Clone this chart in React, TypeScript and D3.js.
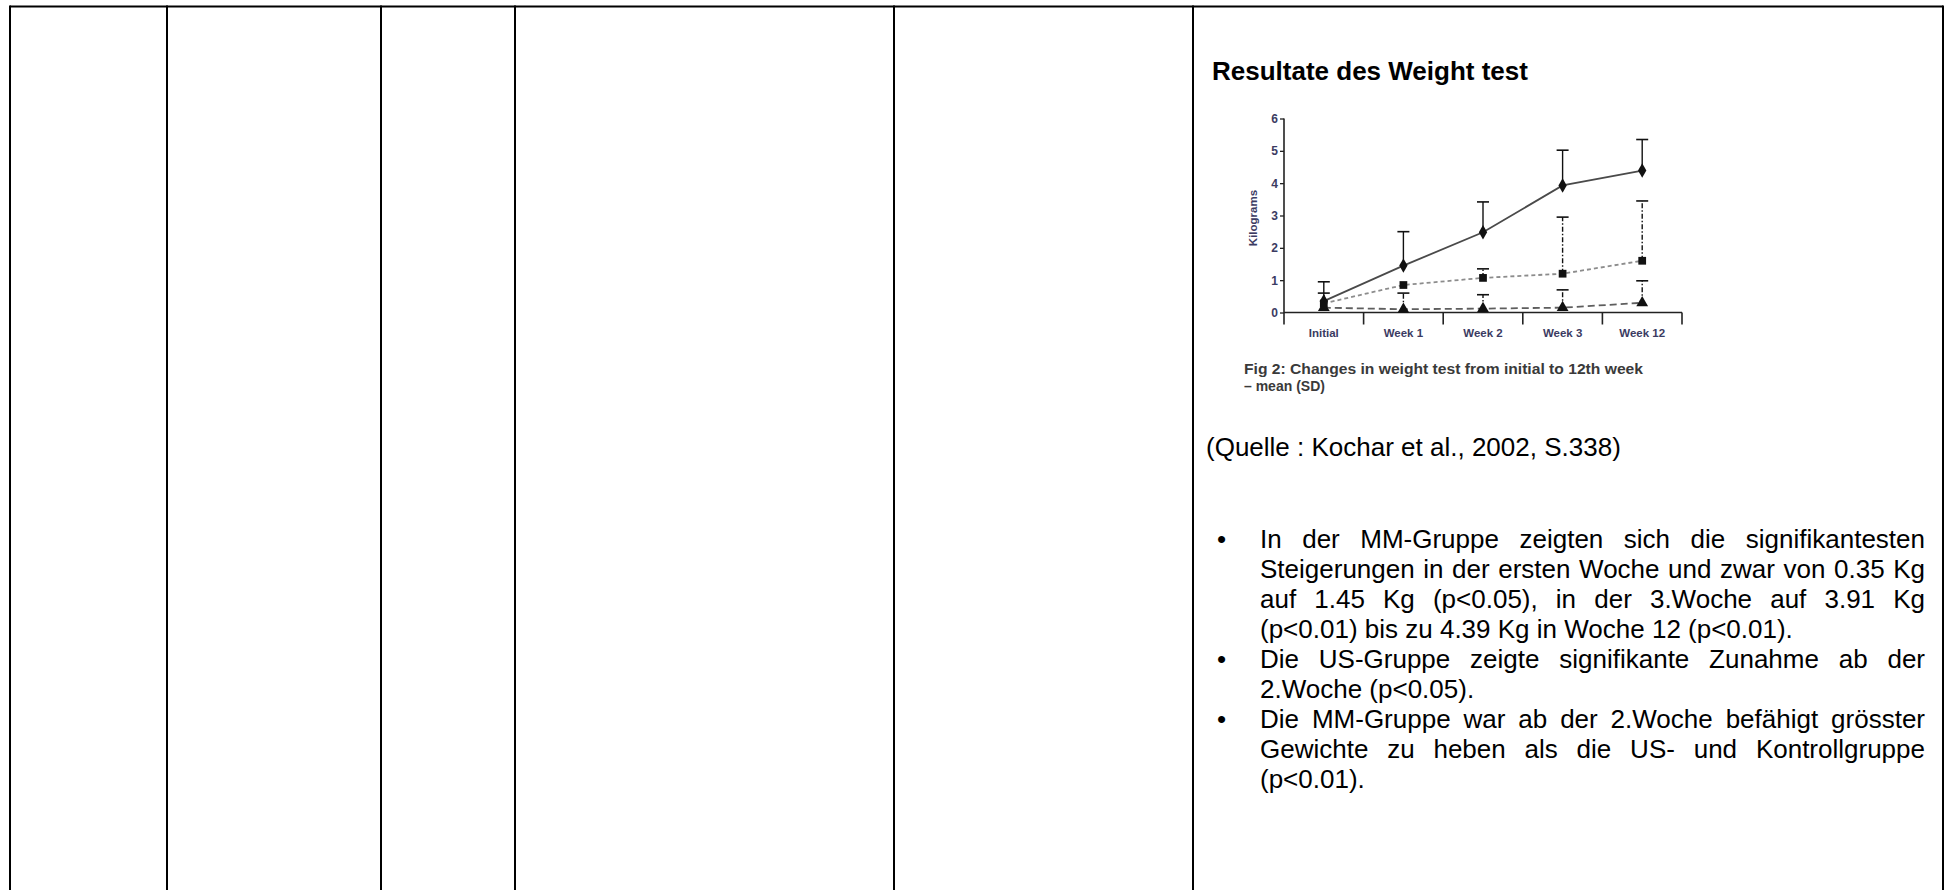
import React, { useEffect, useRef } from "react";
import * as d3 from "d3";

// chart data (kilograms, mean and SD)
const categories = ["Initial", "Week 1", "Week 2", "Week 3", "Week 12"];
const yTicks = [0, 1, 2, 3, 4, 5, 6];

const mmMean = [0.35, 1.45, 2.48, 3.93, 4.39];
const mmSD = [0.6, 1.05, 0.94, 1.09, 0.96];
const usMean = [0.28, 0.85, 1.07, 1.2, 1.6];
const usSD = [0.32, null, 0.28, 1.75, 1.85];
const ctrlMean = [0.15, 0.1, 0.12, 0.15, 0.3];
const ctrlSD = [null, 0.5, 0.43, 0.55, 0.68];

const title = "Resultate des Weight test";
const captionLines = ["Fig 2: Changes in weight test from initial to 12th week", "– mean (SD)"];
const source = "(Quelle : Kochar et al., 2002, S.338)";
const bullets = [
  [
    "In der MM-Gruppe zeigten sich die signifikantesten",
    "Steigerungen in der ersten Woche und zwar von 0.35 Kg",
    "auf 1.45 Kg (p<0.05), in der 3.Woche auf 3.91 Kg",
    "(p<0.01) bis zu 4.39 Kg in Woche 12 (p<0.01).",
  ],
  ["Die US-Gruppe zeigte signifikante Zunahme ab der", "2.Woche (p<0.05)."],
  [
    "Die MM-Gruppe war ab der 2.Woche befähigt grösster",
    "Gewichte zu heben als die US- und Kontrollgruppe",
    "(p<0.01).",
  ],
];

const W = 1951;
const H = 890;
const colEdges = [10, 167, 381, 515, 894, 1193, 1943];
const FONT = "'Liberation Sans', Arial, sans-serif";

const ctx = document.createElement("canvas").getContext("2d");
const measure = (t: string, font: string) => {
  ctx!.font = font;
  return ctx!.measureText(t).width;
};

const App = () => {
  const chartRef = useRef<SVGGElement>(null);

  useEffect(() => {
    const g = d3.select(chartRef.current);
    g.selectAll("*").remove();

    const x = d3.scaleBand().domain(categories).range([1284, 1682]).padding(0);
    const y = d3.scaleLinear().domain([0, 6]).range([312.5, 118.5]);
    const cx = (i: number) => x(categories[i])! + x.bandwidth() / 2;
    const labelColor = "#3b3b62";

    // y axis
    const ya = g.append("g").attr("transform", "translate(1284,0)")
      .call(d3.axisLeft(y).tickValues(yTicks).tickFormat(d3.format("d")).tickSize(4).tickPadding(2).tickSizeOuter(0));
    ya.select(".domain").remove();
    ya.selectAll("line").attr("stroke", "#222").attr("stroke-width", 1.3);
    ya.selectAll("text").attr("font-family", FONT).attr("font-size", 12).attr("font-weight", 700).attr("fill", labelColor);
    g.append("line").attr("x1", 1284).attr("x2", 1284).attr("y1", y(6)).attr("y2", y(0) + 12)
      .attr("stroke", "#222").attr("stroke-width", 1.6);

    // x axis
    const xa = g.append("g").attr("transform", `translate(0,${y(0)})`)
      .call(d3.axisBottom(x).tickSize(0).tickPadding(16));
    xa.select(".domain").remove();
    xa.selectAll("text").attr("font-family", FONT).attr("font-size", 11.5).attr("font-weight", 700).attr("fill", labelColor);
    g.append("line").attr("x1", 1284).attr("x2", 1682).attr("y1", y(0)).attr("y2", y(0))
      .attr("stroke", "#222").attr("stroke-width", 1.6);
    g.selectAll(".bound").data(categories).enter().append("line")
      .attr("x1", (d) => x(d)! + x.bandwidth()).attr("x2", (d) => x(d)! + x.bandwidth())
      .attr("y1", y(0)).attr("y2", y(0) + 12).attr("stroke", "#222").attr("stroke-width", 1.6);

    g.append("text").attr("transform", "translate(1257,218) rotate(-90)")
      .attr("text-anchor", "middle").attr("font-family", FONT).attr("font-size", 11.5)
      .attr("font-weight", 700).attr("fill", labelColor).text("Kilograms");

    const series = [
      { mean: mmMean, sd: mmSD, stroke: "#4a4a4a", dash: null, symbol: d3.symbolDiamond, size: 60, barDash: null },
      { mean: usMean, sd: usSD, stroke: "#8c8c8c", dash: "4,3", symbol: d3.symbolSquare, size: 60, barDash: "5,2,1.5,2" },
      { mean: ctrlMean, sd: ctrlSD, stroke: "#5e5e5e", dash: "7,4", symbol: d3.symbolTriangle, size: 60, barDash: "5,2,1.5,2" },
    ];

    const line = d3.line<number>().x((_, i) => cx(i)).y((d) => y(d));

    series.forEach((s) => {
      g.append("path").attr("d", line(s.mean)).attr("fill", "none")
        .attr("stroke", s.stroke).attr("stroke-width", 1.8)
        .attr("stroke-dasharray", s.dash);
    });

    series.forEach((s) => {
      s.mean.forEach((m, i) => {
        const sd = s.sd[i];
        if (sd == null) return;
        const top = y(m + sd);
        g.append("line").attr("x1", cx(i)).attr("x2", cx(i)).attr("y1", y(m)).attr("y2", top)
          .attr("stroke", "#111").attr("stroke-width", 1.4).attr("stroke-dasharray", s.barDash);
        g.append("line").attr("x1", cx(i) - 6).attr("x2", cx(i) + 6).attr("y1", top).attr("y2", top)
          .attr("stroke", "#111").attr("stroke-width", 1.6);
      });
    });

    series.forEach((s) => {
      g.selectAll(null).data(s.mean).enter().append("path")
        .attr("d", d3.symbol(s.symbol, s.size)())
        .attr("transform", (d, i) => `translate(${cx(i)},${y(d)})`)
        .attr("fill", "#111");
    });
  }, []);

  const bodyFont = `26px ${FONT}`;
  const textLeft = 1260;
  const textRight = 1925;
  let lineNo = 0;
  const lines: React.ReactNode[] = [];
  bullets.forEach((para, pi) => {
    para.forEach((ln, li) => {
      const base = 548 + lineNo * 30;
      lineNo++;
      const last = li === para.length - 1;
      if (li === 0) {
        lines.push(<text key={`b${pi}`} x={1217} y={base} fontFamily={FONT} fontSize={26}>•</text>);
      }
      const words = ln.split(" ");
      if (last || words.length < 2) {
        lines.push(<text key={`l${lineNo}`} x={textLeft} y={base} fontFamily={FONT} fontSize={26} style={{ whiteSpace: "pre" }}>{ln}</text>);
      } else {
        const widths = words.map((w) => measure(w, bodyFont));
        const gap = (textRight - textLeft - d3.sum(widths)) / (words.length - 1);
        let xx = textLeft;
        words.forEach((w, wi) => {
          lines.push(<text key={`l${lineNo}w${wi}`} x={xx} y={base} fontFamily={FONT} fontSize={26}>{w}</text>);
          xx += widths[wi] + gap;
        });
      }
    });
  });

  return (
    <svg width={W} height={H} style={{ position: "absolute", left: 0, top: 0, display: "block", background: "#fff" }}>
      <line x1={colEdges[0]} x2={colEdges[colEdges.length - 1]} y1={6.5} y2={6.5} stroke="#000" strokeWidth={2.2} />
      {colEdges.map((c) => (
        <line key={c} x1={c} x2={c} y1={5.5} y2={H} stroke="#000" strokeWidth={2} />
      ))}
      <text x={1212} y={80} fontFamily={FONT} fontSize={26} fontWeight={700}>{title}</text>
      <g ref={chartRef} />
      <text x={1244} y={374} fontFamily={FONT} fontSize={14} fontWeight={700} fill="#3a3a3a"
        textLength={399} lengthAdjust="spacingAndGlyphs">{captionLines[0]}</text>
      <text x={1244} y={391} fontFamily={FONT} fontSize={14} fontWeight={700} fill="#3a3a3a">{captionLines[1]}</text>
      <text x={1206} y={456} fontFamily={FONT} fontSize={26}>{source}</text>
      {lines}
    </svg>
  );
};

export default App;
